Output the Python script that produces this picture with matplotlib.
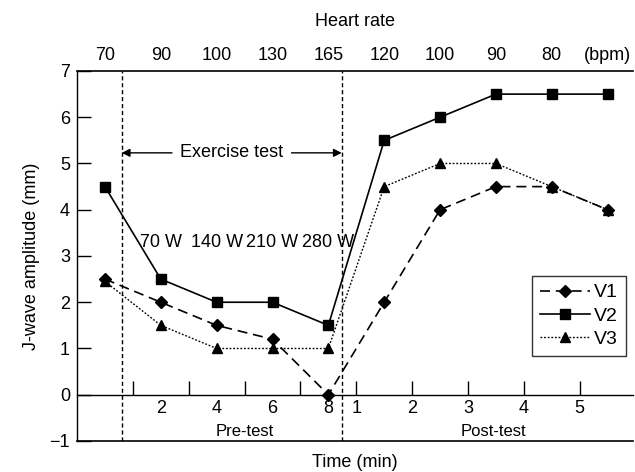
import matplotlib
matplotlib.use("Agg")
import matplotlib.pyplot as plt

plt.rcParams['font.family'] = ['Liberation Sans', 'DejaVu Sans']

# ---- data ----
x_pos = [0, 2, 4, 6, 8, 10, 12, 14, 16, 18]
v1 = [2.5, 2.0, 1.5, 1.2, 0.0, 2.0, 4.0, 4.5, 4.5, 4.0]
v2 = [4.5, 2.5, 2.0, 2.0, 1.5, 5.5, 6.0, 6.5, 6.5, 6.5]
v3 = [2.45, 1.5, 1.0, 1.0, 1.0, 4.5, 5.0, 5.0, 4.5, 4.0]
heart_rate = ['70', '90', '100', '130', '165', '120', '100', '90', '80', '(bpm)']
time_tick_pos = [2, 4, 6, 8, 9, 11, 13, 15, 17]
time_tick_labels = ['2', '4', '6', '8', '1', '2', '3', '4', '5']
minor_tick_pos = [1, 3, 5, 7, 9, 11, 13, 15, 17]
workload_pos = [2, 4, 6, 8]
workload_labels = ['70 W', '140 W', '210 W', '280 W']
exercise_start, exercise_end = 0.6, 8.48

FS = 13
fig = plt.figure(figsize=(6.35, 4.72), dpi=100)
ax = fig.add_axes([0.1213, 0.0657, 0.8756, 0.7839])
ax.set_xlim(-1.0, 18.91)
ax.set_ylim(-1, 7)

ax.plot(x_pos, v1, color='black', lw=1.2, dashes=(6, 3.5), marker='D', ms=5.8, label='V1')
ax.plot(x_pos, v2, color='black', lw=1.2, ls='-', marker='s', ms=6.5, label='V2')
ax.plot(x_pos, v3, color='black', lw=1.0, dashes=(1.3, 1.3), marker='^', ms=7.5, label='V3')

# frame
ax.spines['right'].set_visible(False)
ax.spines['top'].set_visible(False)
ax.spines['bottom'].set_position(('data', 0))
for s in ['left', 'bottom']:
    ax.spines[s].set_linewidth(1.0)
ax.axhline(-1, color='black', lw=1.2, clip_on=False)

ax.set_yticks(range(-1, 8))
ax.tick_params(axis='y', direction='in', length=10, width=1.0, pad=5, labelsize=FS)

ax.xaxis.remove_overlapping_locs = False
ax.set_xticks(time_tick_pos)
ax.set_xticklabels(time_tick_labels)
ax.set_xticks(minor_tick_pos, minor=True)
ax.tick_params(axis='x', which='major', length=0, pad=4, labelsize=FS)
ax.tick_params(axis='x', which='minor', direction='in', length=10, width=1.0)

ax.text(5.0, -0.80, 'Pre-test', ha='center', va='center', fontsize=FS - 1)
ax.text(13.9, -0.80, 'Post-test', ha='center', va='center', fontsize=FS - 1)
ax.text(0.5, -0.057, 'Time (min)', transform=ax.transAxes, ha='center', va='center', fontsize=FS)
ax.set_ylabel('J-wave amplitude (mm)', fontsize=FS)
ax.yaxis.set_label_coords(-0.067, 0.5)

# exercise window
for xv in (exercise_start, exercise_end):
    ax.axvline(xv, color='black', lw=1.0, dashes=(3, 2))
ax.text((exercise_start + exercise_end) / 2, 5.23, 'Exercise test', ha='center', va='center', fontsize=FS)
ax.annotate('', xy=(exercise_start, 5.23), xytext=(2.4, 5.23),
            arrowprops=dict(arrowstyle='-|>', color='black', lw=1.0, shrinkA=0, shrinkB=0,
                            mutation_scale=12))
ax.annotate('', xy=(exercise_end, 5.23), xytext=(6.68, 5.23),
            arrowprops=dict(arrowstyle='-|>', color='black', lw=1.0, shrinkA=0, shrinkB=0,
                            mutation_scale=12))
for xp, lab in zip(workload_pos, workload_labels):
    ax.text(xp, 3.3, lab, ha='center', va='center', fontsize=FS)

# top axis: heart rate
ax2 = ax.twiny()
ax2.set_xlim(ax.get_xlim())
ax2.set_xticks(x_pos)
ax2.set_xticklabels(heart_rate)
ax2.tick_params(axis='x', length=0, pad=5, labelsize=FS)
for s in ['left', 'right', 'bottom']:
    ax2.spines[s].set_visible(False)
ax2.spines['top'].set_linewidth(1.2)
ax2.set_xlabel('Heart rate', fontsize=FS, labelpad=15)

leg = ax.legend(loc='upper left', bbox_to_anchor=(0.818, 0.446), borderaxespad=0,
                fontsize=FS + 1, frameon=True, fancybox=False, edgecolor='black',
                handlelength=2.6, handletextpad=0.2, labelspacing=0.3, borderpad=0.4)
leg.get_frame().set_linewidth(1.0)

fig.savefig('out.png', dpi=100)
